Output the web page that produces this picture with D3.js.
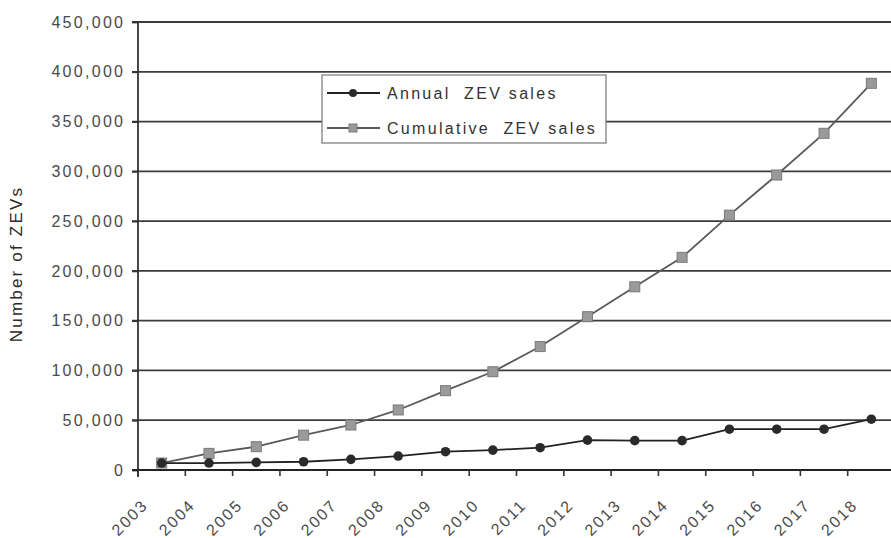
<!DOCTYPE html>
<html>
<head>
<meta charset="utf-8">
<script src="https://cdn.jsdelivr.net/npm/d3@7"></script>
<style>
  html, body { margin: 0; padding: 0; background: #fff; }
  svg { display: block; }
  text { font-family: "Liberation Sans", Arial, sans-serif; white-space: pre; }
</style>
</head>
<body>
<svg id="chart" width="891" height="538"></svg>
<script>
const years = ["2003","2004","2005","2006","2007","2008","2009","2010","2011","2012","2013","2014","2015","2016","2017","2018"];
const annualSales = [7000, 7000, 7700, 8300, 10700, 14000, 18400, 20000, 22400, 30000, 29500, 29500, 41000, 41000, 41000, 51000];
const cumulativeSales = [7000, 16700, 23400, 35000, 45200, 60300, 79700, 98700, 124000, 154000, 184000, 213600, 256000, 296300, 338200, 388400];
const yTickValues = [0, 50000, 100000, 150000, 200000, 250000, 300000, 350000, 400000, 450000];
const seriesNames = ["Annual  ZEV sales", "Cumulative  ZEV sales"];
const yTitle = "Number of ZEVs";

const svg = d3.select("#chart");
const plot = { left: 138, right: 895, top: 22, bottom: 470 };

const x = d3.scaleBand().domain(years).range([plot.left, plot.right]).paddingInner(0).paddingOuter(0);
const y = d3.scaleLinear().domain([0, 450000]).range([plot.bottom, plot.top]);

// gridlines
svg.append("g").selectAll("line").data(yTickValues.filter(v => v > 0)).join("line")
  .attr("x1", plot.left - 6).attr("x2", plot.right)
  .attr("y1", d => y(d)).attr("y2", d => y(d))
  .attr("stroke", "#3c3c3c").attr("stroke-width", 1.8);

// y axis
const yAxis = svg.append("g").attr("transform", `translate(${plot.left},0)`)
  .call(d3.axisLeft(y).tickValues(yTickValues).tickSize(6).tickPadding(9).tickFormat(d3.format(",")));
yAxis.select(".domain").remove();
yAxis.selectAll(".tick line").attr("stroke", "#333").attr("stroke-width", 1.8);
yAxis.selectAll(".tick text")
  .attr("font-size", 16).attr("fill", "#4a4a4a")
  .attr("font-family", "'Liberation Sans', Arial, sans-serif")
  .attr("letter-spacing", "2.3px").attr("dx", "2.3");
svg.append("line").attr("x1", plot.left).attr("x2", plot.left)
  .attr("y1", plot.top).attr("y2", plot.bottom + 7)
  .attr("stroke", "#333").attr("stroke-width", 1.8);

// x axis
const xTickPos = years.map(d => x(d)).concat([plot.right]);
svg.append("line").attr("x1", plot.left - 6).attr("x2", plot.right)
  .attr("y1", plot.bottom).attr("y2", plot.bottom)
  .attr("stroke", "#222").attr("stroke-width", 2.2);
svg.append("g").selectAll("line").data(xTickPos).join("line")
  .attr("x1", d => d).attr("x2", d => d)
  .attr("y1", plot.bottom).attr("y2", plot.bottom + 6)
  .attr("stroke", "#333").attr("stroke-width", 1.6);
svg.append("g").selectAll("text").data(years).join("text")
  .attr("transform", d => `translate(${x(d) + 11},${plot.bottom + 36}) rotate(-45)`)
  .attr("text-anchor", "end")
  .attr("font-size", 16).attr("fill", "#4a4a4a")
  .attr("letter-spacing", "2px")
  .text(d => d);

// y title
svg.append("text")
  .attr("transform", `translate(22,264) rotate(-90)`)
  .attr("text-anchor", "middle")
  .attr("font-size", 17).attr("fill", "#2a2a2a")
  .attr("letter-spacing", "2.2px")
  .text(yTitle);

const cx = d => x(d) + x.bandwidth() / 2;

// cumulative series
const cumData = years.map((d, i) => ({ year: d, v: cumulativeSales[i] }));
svg.append("path").datum(cumData)
  .attr("fill", "none").attr("stroke", "#5a5a5a").attr("stroke-width", 1.8)
  .attr("d", d3.line().x(d => cx(d.year)).y(d => y(d.v)));
svg.append("g").selectAll("rect").data(cumData).join("rect")
  .attr("x", d => cx(d.year) - 5).attr("y", d => y(d.v) - 5)
  .attr("width", 10).attr("height", 10)
  .attr("fill", "#9a9a9a").attr("stroke", "#7a7a7a").attr("stroke-width", 1);

// annual series
const annData = years.map((d, i) => ({ year: d, v: annualSales[i] }));
svg.append("path").datum(annData)
  .attr("fill", "none").attr("stroke", "#222").attr("stroke-width", 1.8)
  .attr("d", d3.line().x(d => cx(d.year)).y(d => y(d.v)));
svg.append("g").selectAll("circle").data(annData).join("circle")
  .attr("cx", d => cx(d.year)).attr("cy", d => y(d.v)).attr("r", 4.8)
  .attr("fill", "#2a2a2a");

// legend
const lg = svg.append("g");
lg.append("rect").attr("x", 322).attr("y", 75).attr("width", 284).attr("height", 68)
  .attr("fill", "#fff").attr("stroke", "#777").attr("stroke-width", 1.2);
const legendRows = [
  { name: seriesNames[0], y: 93, kind: "annual" },
  { name: seriesNames[1], y: 128, kind: "cum" }
];
legendRows.forEach(r => {
  lg.append("line").attr("x1", 327).attr("x2", 380).attr("y1", r.y).attr("y2", r.y)
    .attr("stroke", r.kind === "annual" ? "#222" : "#5a5a5a").attr("stroke-width", 1.8);
  if (r.kind === "annual") {
    lg.append("circle").attr("cx", 353).attr("cy", r.y).attr("r", 4).attr("fill", "#2a2a2a");
  } else {
    lg.append("rect").attr("x", 349).attr("y", r.y - 4).attr("width", 8).attr("height", 8)
      .attr("fill", "#9a9a9a").attr("stroke", "#7a7a7a");
  }
  lg.append("text").attr("x", 387).attr("y", r.y).attr("dy", "0.35em")
    .attr("font-size", 16).attr("fill", "#333").attr("letter-spacing", "2.3px")
    .text(r.name);
});
</script>
</body>
</html>
